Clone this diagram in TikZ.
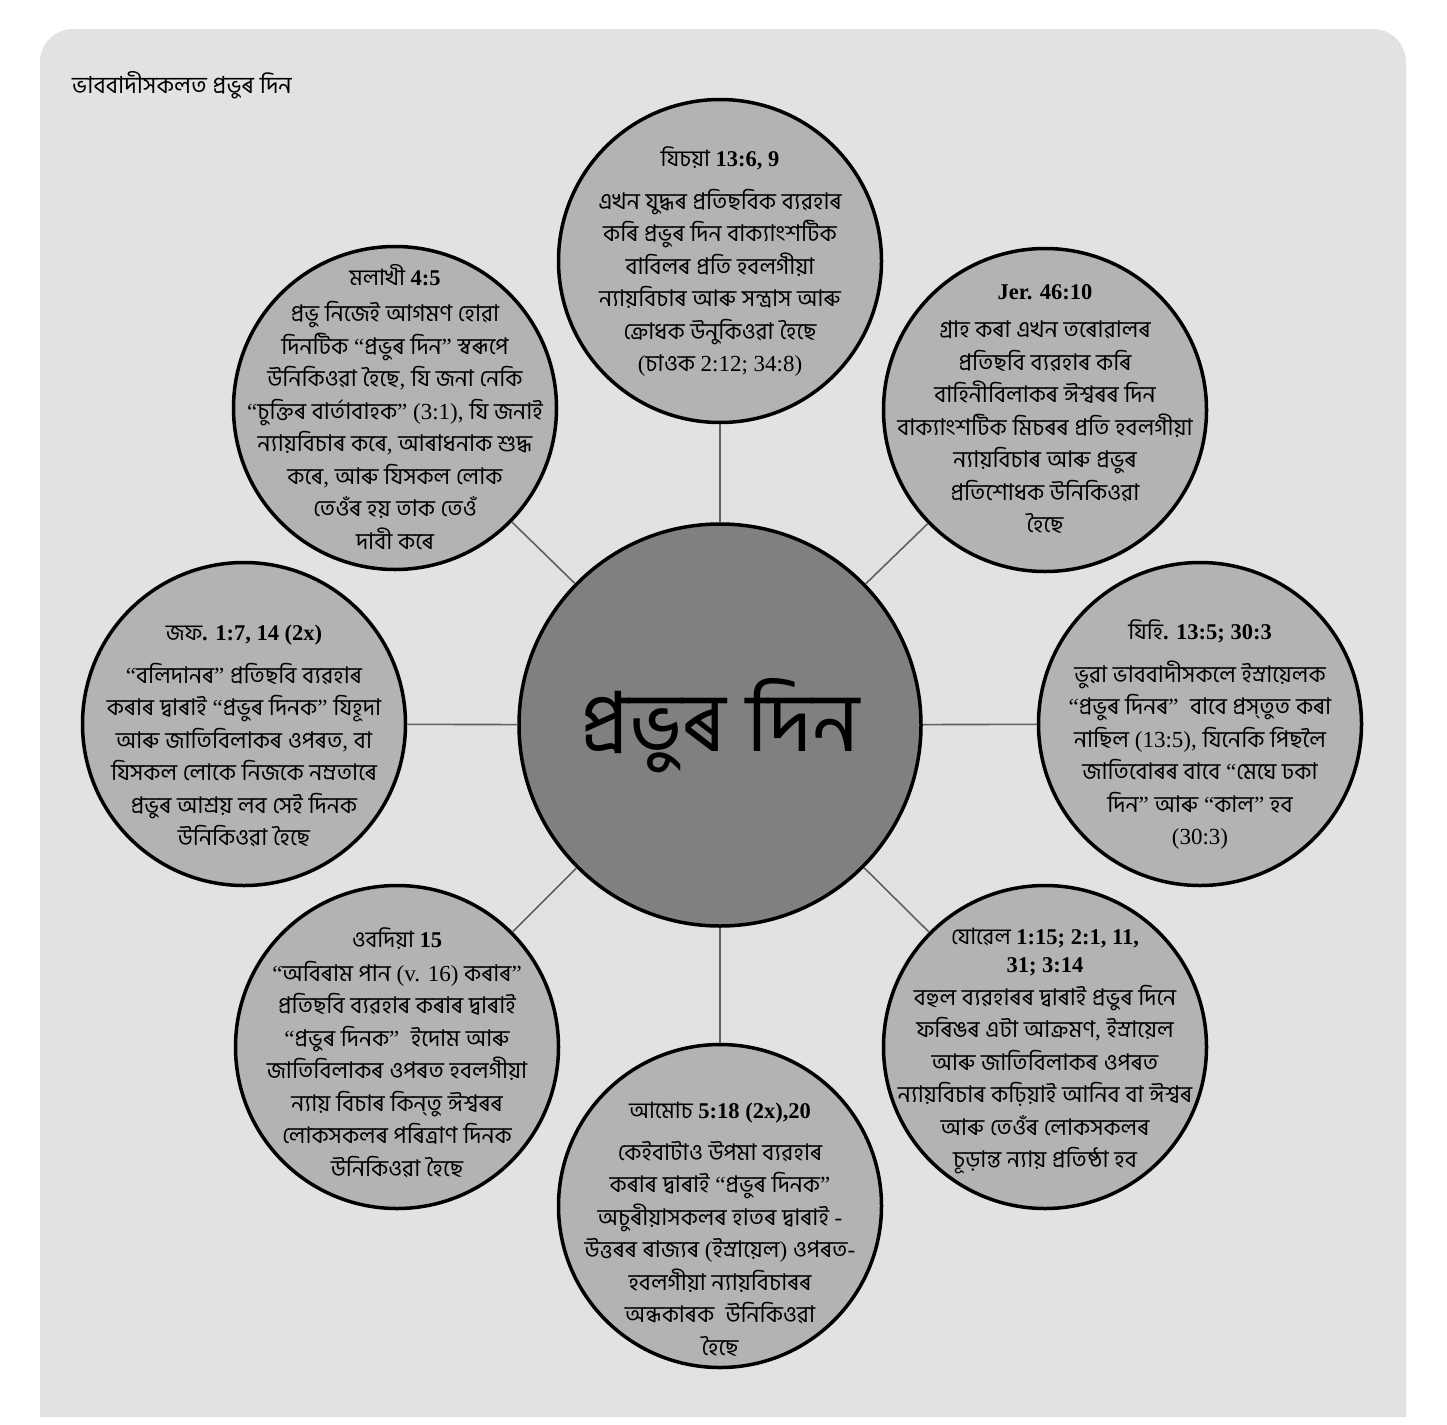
\documentclass[tikz,border=0pt]{standalone}
\usepackage{fontspec}
\setmainfont{Liberation Serif}
\newfontfamily\bnfont[Script=Bengali]{Hind Siliguri}
\makeatletter
\newXeTeXintercharclass\BnClass
\@tempcnta="0980
\loop
  \XeTeXcharclass\@tempcnta=\BnClass
  \advance\@tempcnta by 1
\ifnum\@tempcnta<"0A00 \repeat
\XeTeXcharclass"200C=\BnClass
\XeTeXcharclass"200D=\BnClass
\makeatother
\XeTeXinterchartoks 0 \BnClass = {\begingroup\bnfont\mdseries}
\XeTeXinterchartoks 4095 \BnClass = {\begingroup\bnfont\mdseries}
\XeTeXinterchartoks \BnClass 0 = {\endgroup}
\XeTeXinterchartoks \BnClass 4095 = {\endgroup}
\XeTeXinterchartokenstate=1
\definecolor{bggray}{RGB}{226,226,226}
\definecolor{bubfill}{RGB}{179,179,179}
\definecolor{hubfill}{RGB}{128,128,128}
\definecolor{linkgray}{RGB}{96,96,96}
\tikzset{
  bub/.style={circle, draw=black, line width=3.5pt, fill=bubfill, minimum size=323pt, inner sep=0pt},
  hub/.style={circle, draw=black, line width=3.5pt, fill=hubfill, minimum size=402pt, inner sep=0pt},
  link/.style={draw=linkgray, line width=1.6pt},
  txt/.style={align=center, inner sep=0pt, font=\fontsize{23}{32.5}\selectfont},
}
\newcommand{\ttl}[1]{{\fontsize{22.5}{26}\selectfont\bfseries #1}}
\begin{document}
\begin{tikzpicture}[x=1pt,y=-1pt]
\fill[white] (0,0) rectangle (1447,1424);
\useasboundingbox (0,0) rectangle (1447,1424);
\fill[bggray] (40,1417) [rounded corners=33pt] -- (40,29) -- (1406,29) [sharp corners] -- (1406,1417) -- cycle;

\node[anchor=base west, inner sep=0pt, font=\fontsize{23.5}{26}\selectfont] (head) at (72,93) {ভাববাদীসকলত প্ৰভুৰ দিন};

\node[hub] (c) at (720,725) {};
\node[bub] (b1) at (720,261) {};
\node[bub] (b2) at (1045,410) {};
\node[bub] (b3) at (1200,724) {};
\node[bub] (b4) at (1045,1047) {};
\node[bub] (b5) at (720,1206) {};
\node[bub] (b6) at (397,1047) {};
\node[bub] (b7) at (244,724) {};
\node[bub] (b8) at (395,408) {};

\foreach \i in {1,...,8} \draw[link] (c) -- (b\i);

\node[font=\fontsize{83}{83}\selectfont, inner sep=0pt] (ct) at (720,726) {প্ৰভুৰ দিন};

\node[txt] (t1) at (720,262) {\ttl{যিচয়া 13:6, 9}\\[10pt]
এখন যুদ্ধৰ প্ৰতিছবিক ব্যৱহাৰ\\
কৰি প্ৰভুৰ দিন বাক্যাংশটিক\\
বাবিলৰ প্ৰতি হবলগীয়া\\
ন্যায়বিচাৰ আৰু সন্ত্ৰাস আৰু\\
ক্ৰোধক উনুকিওৱা হৈছে\\
(চাওক 2:12; 34:8)};

\node[txt] (t8) at (395,407) {\ttl{মলাখী 4:5}\\[4pt]
প্ৰভু নিজেই আগমণ হোৱা\\
দিনটিক “প্ৰভুৰ দিন” স্বৰূপে\\
উনিকিওৱা হৈছে, যি জনা নেকি\\
“চুক্তিৰ বাৰ্তাবাহক” (3:1), যি জনাই\\
ন্যায়বিচাৰ কৰে, আৰাধনাক শুদ্ধ\\
কৰে, আৰু যিসকল লোক\\
তেওঁৰ হয় তাক তেওঁ\\
দাবী কৰে};

\node[txt] (t2) at (1045,409) {\ttl{Jer. 46:10}\\[6pt]
গ্ৰাহ কৰা এখন তৰোৱালৰ\\
প্ৰতিছবি ব্যৱহাৰ কৰি\\
বাহিনীবিলাকৰ ঈশ্বৰৰ দিন\\
বাক্যাংশটিক মিচৰৰ প্ৰতি হবলগীয়া\\
ন্যায়বিচাৰ আৰু প্ৰভুৰ\\
প্ৰতিশোধক উনিকিওৱা\\
হৈছে};

\node[txt] (t7) at (244,736) {\ttl{জফ. 1:7, 14 (2x)}\\[10pt]
“বলিদানৰ” প্ৰতিছবি ব্যৱহাৰ\\
কৰাৰ দ্বাৰাই “প্ৰভুৰ দিনক” যিহূদা\\
আৰু জাতিবিলাকৰ ওপৰত, বা\\
যিসকল লোকে নিজকে নম্ৰতাৰে\\
প্ৰভুৰ আশ্ৰয় লব সেই দিনক\\
উনিকিওৱা হৈছে};

\node[txt] (t3) at (1200,735) {\ttl{যিহি. 13:5; 30:3}\\[10pt]
ভুৱা ভাববাদীসকলে ইস্ৰায়েলক\\
“প্ৰভুৰ দিনৰ”\ \ বাবে প্ৰস্^^^^200cতুত কৰা\\
নাছিল (13:5), যিনেকি পিছলৈ\\
জাতিবোৰৰ বাবে “মেঘে ঢকা\\
দিন” আৰু “কাল” হব\\
(30:3)};

\node[txt] (t6) at (397,1053) {\ttl{ওবদিয়া 15}\\[1pt]
“অবিৰাম পান (v. 16) কৰাৰ”\\
প্ৰতিছবি ব্যৱহাৰ কৰাৰ দ্বাৰাই\\
“প্ৰভুৰ দিনক”\ \ ইদোম আৰু\\
জাতিবিলাকৰ ওপৰত হবলগীয়া\\
ন্যায় বিচাৰ কিন্^^^^200cতু ঈশ্বৰৰ\\
লোকসকলৰ পৰিত্ৰাণ দিনক\\
উনিকিওৱা হৈছে};

\node[txt] (t4) at (1045,1051) {\ttl{যোৱেল 1:15; 2:1, 11,}\\[-4pt]
\ttl{31; 3:14}\\
বহুল ব্যৱহাৰৰ দ্বাৰাই প্ৰভুৰ দিনে\\
ফৰিঙৰ এটা আক্ৰমণ, ইস্ৰায়েল\\
আৰু জাতিবিলাকৰ ওপৰত\\
ন্যায়বিচাৰ কঢ়িয়াই আনিব বা ঈশ্বৰ\\
আৰু তেওঁৰ লোকসকলৰ\\
চূড়ান্ত ন্যায় প্ৰতিষ্ঠা হব};

\node[txt] (t5) at (720,1229) {\ttl{আমোচ 5:18 (2x),20}\\[9pt]
কেইবাটাও উপমা ব্যৱহাৰ\\
কৰাৰ দ্বাৰাই “প্ৰভুৰ দিনক”\\
অচুৰীয়াসকলৰ হাতৰ দ্বাৰাই -\\
উত্তৰৰ ৰাজ্যৰ (ইস্ৰায়েল) ওপৰত-\\
হবলগীয়া ন্যায়বিচাৰৰ\\
অন্ধকাৰক\ \ উনিকিওৱা\\
হৈছে};
\end{tikzpicture}
\end{document}
